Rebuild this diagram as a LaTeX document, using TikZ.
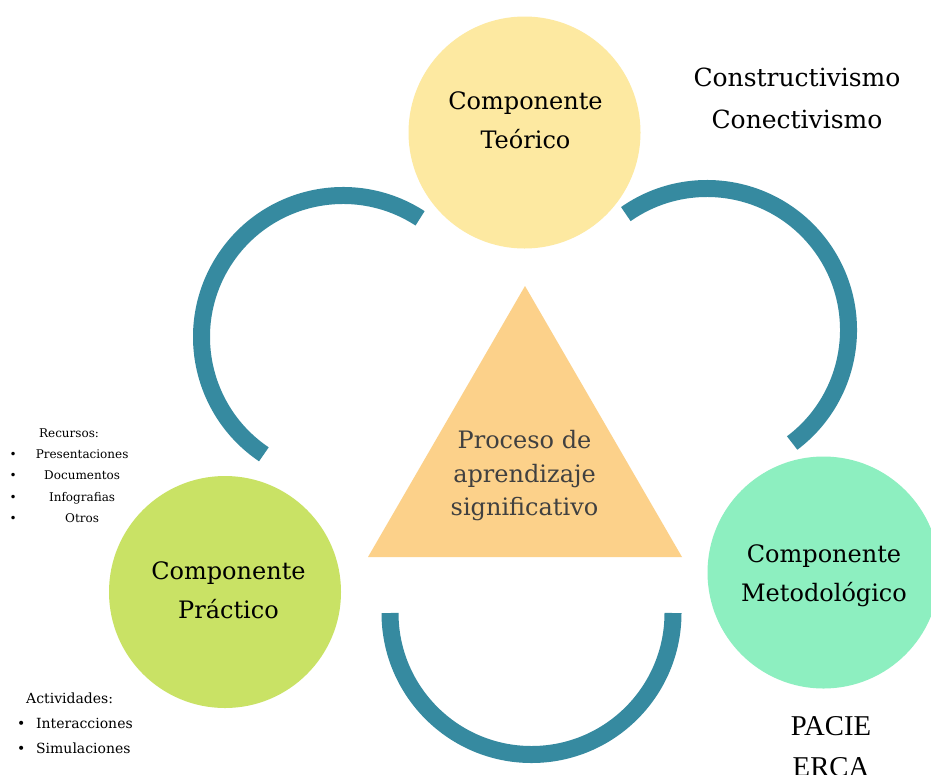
\documentclass[tikz,border=0pt]{standalone}
\usepackage{fontspec}
\setmainfont{DejaVu Serif}
\newfontfamily\pacfont{Liberation Serif}
\usepackage{tikz}

\definecolor{ringcol}{RGB}{54,138,160}
\definecolor{teocol}{RGB}{253,233,161}
\definecolor{praccol}{RGB}{201,226,101}
\definecolor{metcol}{RGB}{141,239,192}
\definecolor{tricol}{RGB}{252,209,138}
\definecolor{tritextcol}{RGB}{64,64,64}

\tikzset{
  ring/.style={draw=ringcol, line width=17pt},
  comp/.style={circle, minimum size=232pt, inner sep=0pt},
  comptext/.style={align=center, inner sep=0pt, font=\fontsize{24}{39}\selectfont},
  sidetext/.style={align=center, inner sep=0pt}
}

\begin{document}
\begin{tikzpicture}[x=1pt,y=1pt]
    \path[use as bounding box, fill=white] (0,0) rectangle (931,-774);
    % three rings between the components
    \foreach \cx/\cy/\from/\to in {343/-337/57/236, 707/-330/125/-53, 531.5/-613/180/360}{
      \draw[ring] (\cx,\cy) ++(\from:141.5pt) arc[start angle=\from, end angle=\to, radius=141.5pt];
    }
    % central triangle
    \fill[tricol] (525,-286) -- (682,-557) -- (368,-557) -- cycle;
    \node[comptext, text=tritextcol, font=\fontsize{24}{33.5}\selectfont] (proceso) at (524.5,-475.6)
      {Proceso de\\aprendizaje\\significativo};
    % the three components
    \node[comp, fill=teocol] (teorico) at (524.5,-132.5) {};
    \node[comptext] (teoricotxt) at (525.5,-120.75) {Componente\\Teórico};
    \node[comp, fill=praccol] (practico) at (225,-592) {};
    \node[comptext] (practicotxt) at (228.5,-590.25) {Componente\\Práctico};
    \node[comp, fill=metcol] (metodo) at (823.5,-572.5) {};
    \node[comptext] (metodotxt) at (824,-576) {Componente\\Metodológico};
    % notes beside them
    \node[sidetext, font=\fontsize{25}{42}\selectfont] (teorias) at (797,-97.9)
      {Constructivismo\\Conectivismo};
    \node[sidetext, font=\pacfont\fontsize{28.7}{41}\selectfont] (modelos) at (831,-747)
      {PACIE\\ERCA};
    \node[inner sep=0pt, anchor=north west, font=\fontsize{12}{21.3}\selectfont] (recursos) at (9.5,-422.1) {%
      \begin{tabular}{@{}c@{\hspace{19pt}}c@{}}
        \multicolumn{2}{@{}c@{}}{Recursos:}\\
        \textbullet & Presentaciones\\
        \textbullet & Documentos\\
        \textbullet & Infografias\\
        \textbullet & Otros
      \end{tabular}};
    \node[inner sep=0pt, anchor=north west, font=\fontsize{14}{25}\selectfont] (actividades) at (16.9,-685.5) {%
      \begin{tabular}{@{}l@{\hspace{10.8pt}}l@{}}
        \multicolumn{2}{@{\hspace{9.1pt}}l@{}}{Actividades:}\\
        \textbullet & Interacciones\\
        \textbullet & Simulaciones
      \end{tabular}};
\end{tikzpicture}
\end{document}
